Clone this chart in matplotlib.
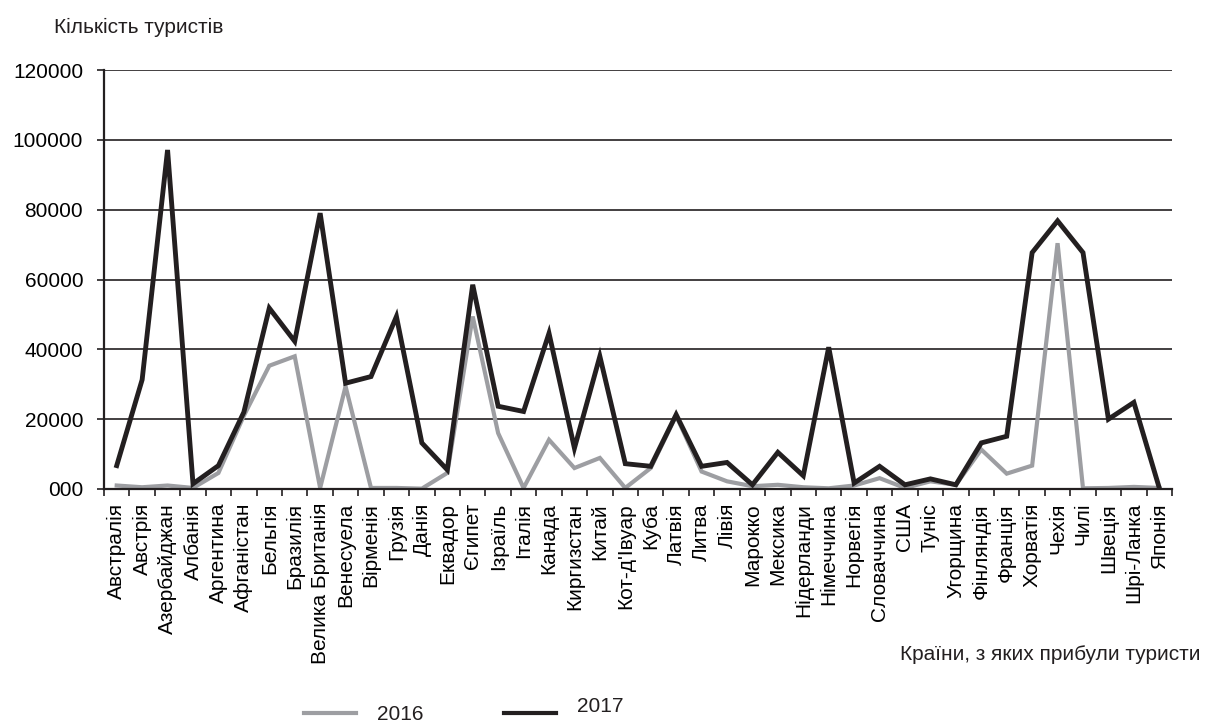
import numpy as np
import matplotlib.pyplot as plt
from matplotlib.lines import Line2D

countries = [
    "Австралія", "Австрія", "Азербайджан", "Албанія", "Аргентина", "Афганістан",
    "Бельгія", "Бразилія", "Велика Британія", "Венесуела", "Вірменія", "Грузія",
    "Данія", "Еквадор", "Єгипет", "Ізраїль", "Італія", "Канада", "Киргизстан",
    "Китай", "Кот-д'Івуар", "Куба", "Латвія", "Литва", "Лівія", "Марокко",
    "Мексика", "Нідерланди", "Німеччина", "Норвегія", "Словаччина", "США",
    "Туніс", "Угорщина", "Фінляндія", "Франція", "Хорватія", "Чехія", "Чилі",
    "Швеція", "Шрі-Ланка", "Японія",
]
y2016 = [
    1000, 500, 1000, 300, 4600, 21000, 35300, 38000, 300, 29400, 300, 300,
    100, 4600, 49400, 16000, 300, 14100, 6000, 8900, 300, 6000, 21000, 5000,
    2200, 800, 1200, 500, 200, 1000, 3100, 300, 2200, 1200, 11300, 4400,
    6700, 70400, 200, 300, 600, 300,
]
y2017 = [
    6700, 31300, 97100, 1500, 6700, 22000, 51800, 42300, 79000, 30300, 32200, 49400,
    13200, 5500, 58500, 23700, 22200, 44600, 11700, 38000, 7250, 6500, 21300, 6500,
    7600, 1200, 10500, 3800, 40600, 1700, 6500, 1200, 2900, 1200, 13200, 15100,
    67700, 76800, 67700, 20000, 24800, 300,
]
yticks = [0, 20000, 40000, 60000, 80000, 100000, 120000]
ytick_labels = ["000", "20000", "40000", "60000", "80000", "100000", "120000"]

plt.rcParams["font.family"] = ["Liberation Sans", "DejaVu Sans"]
dark = "#231f20"
grey = "#9d9ea2"
fs = 15

fig = plt.figure(figsize=(12.06, 7.22), dpi=100)
ax = fig.add_axes([104 / 1206, 1 - 489 / 722, 1068 / 1206, 419 / 722])

x = np.arange(len(countries))
ax.plot(x, y2016, color=grey, lw=3.0, solid_joinstyle="miter")
ax.plot(x, y2017, color=dark, lw=3.5, solid_joinstyle="miter")

ax.set_xlim(-0.5, len(countries) - 0.5)
ax.set_ylim(0, 120000)
ax.set_yticks(yticks)
ax.set_yticklabels(ytick_labels, fontsize=fs)
ax.yaxis.grid(True, color=dark, lw=1.2)
ax.set_axisbelow(True)

ax.set_xticks(x)
ax.set_xticklabels(countries, rotation=90, fontsize=fs, va="top", ha="center")
ax.set_xticks(np.arange(len(countries) + 1) - 0.5, minor=True)
ax.tick_params(axis="x", which="major", length=0, pad=10)
ax.tick_params(axis="x", which="minor", length=5, width=1.2, color=dark)
ax.tick_params(axis="y", length=5, width=1.2, color=dark, pad=10)

for s in ["top", "right"]:
    ax.spines[s].set_visible(False)
for s in ["left", "bottom"]:
    ax.spines[s].set_color(dark)
    ax.spines[s].set_linewidth(1.6)

fig.text(54 / 1206, 1 - 27 / 722, "Кількість туристів", fontsize=fs,
         ha="left", va="center", color=dark)
fig.text(1200 / 1206, 1 - 654 / 722, "Країни, з яких прибули туристи", fontsize=fs,
         ha="right", va="center", color=dark)

# legend drawn by hand below the chart
fig.add_artist(Line2D([304 / 1206, 356 / 1206], [1 - 713 / 722] * 2,
                      color=grey, lw=3.0, transform=fig.transFigure))
fig.text(377 / 1206, 1 - 714 / 722, "2016", fontsize=fs, ha="left", va="center", color=dark)
fig.add_artist(Line2D([504 / 1206, 556 / 1206], [1 - 713 / 722] * 2,
                      color=dark, lw=3.0, transform=fig.transFigure))
fig.text(577 / 1206, 1 - 707 / 722, "2017", fontsize=fs, ha="left", va="center", color=dark)

fig.savefig("out.png", dpi=100)
